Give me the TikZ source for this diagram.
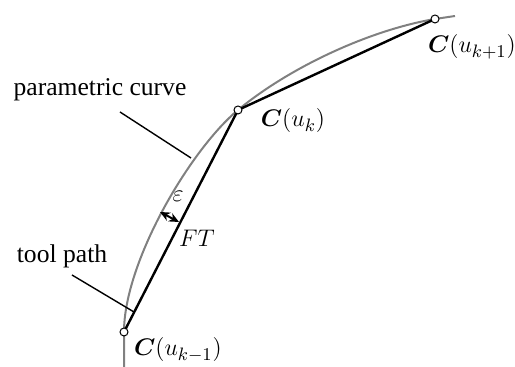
\documentclass[tikz,border=0pt]{standalone}
\usepackage{amsmath}
\usepackage{bm}
\usepackage{fontspec}
\setmainfont{Liberation Serif}
\usetikzlibrary{arrows.meta}
\begin{document}
\begin{tikzpicture}[x=0.5pt,y=-0.5pt,
  curvestyle/.style={draw=black!50, line width=1pt},
  chord/.style={draw=black, line width=1.2pt},
  pointer/.style={draw=black, line width=0.7pt},
  dot/.style={circle, draw=black, fill=white, line width=0.5pt, inner sep=0pt, minimum size=4pt},
  lbl/.style={font=\fontsize{12.8}{15}\selectfont, inner sep=0pt},
  mlbl/.style={font=\fontsize{13}{15}\selectfont, inner sep=0pt}]
\useasboundingbox (0,0) rectangle (515,367);
% points
\coordinate (P0) at (124,332);
\coordinate (P1) at (238,110);
\coordinate (P2) at (435,19);
\coordinate (Pb) at (124,367);
\coordinate (Pe) at (455,16);
% curve
\draw[curvestyle] (Pb) -- (P0) .. controls (124,262) and (190,150) .. (P1)
  .. controls (290,67) and (370,30) .. (P2) -- (Pe);
\draw[chord] (P0) -- (P1) -- (P2);
% epsilon arrow
\coordinate (E1) at (160,212);
\coordinate (E2) at (179,222);
\draw[line width=1pt, {Stealth[length=5pt,width=4.5pt]}-{Stealth[length=5pt,width=4.5pt]}] (E1) -- (E2);
% pointers
\node[lbl] (lpc) at (100,90) {parametric curve};
\coordinate (lpcA) at (120,112);
\coordinate (lpcB) at (191,158);
\draw[pointer] (lpcA) -- (lpcB);
\node[lbl] (ltp) at (62,256) {tool path};
\coordinate (ltpA) at (72,275);
\coordinate (ltpB) at (134,312);
\draw[pointer] (ltpA) -- (ltpB);
% dots
\node[dot] (D0) at (P0) {};
\node[dot] (D1) at (P1) {};
\node[dot] (D2) at (P2) {};
% labels
\node[mlbl] (leps) at (178,196) {$\varepsilon$};
\node[mlbl] (lft) at (197,238) {$FT$};
\node[mlbl] (lk) at (293,121) {$\boldsymbol{C}(u_k)$};
\node[mlbl] (lk1) at (472,47) {$\boldsymbol{C}(u_{k+1})$};
\node[mlbl] (lkm) at (178,350) {$\boldsymbol{C}(u_{k-1})$};
\end{tikzpicture}
\end{document}
